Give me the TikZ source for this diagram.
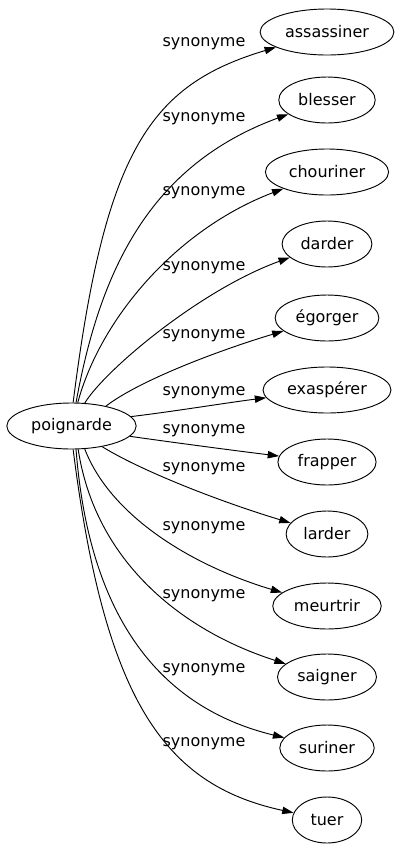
\documentclass[tikz,border=0pt]{standalone}
\usepackage{fontspec}
\setmainfont{DejaVu Sans}
\usepackage{tikz}
\usetikzlibrary{shapes.geometric,arrows.meta,positioning}

\begin{document}
\begin{tikzpicture}[x=0.75pt,y=0.75pt,->,>={Triangle[length=8.5pt,width=5.5pt]},line width=0.7pt,
    word/.style={draw, ellipse, minimum height=34.5pt, minimum width=52pt, inner xsep=4pt, inner ysep=3pt, font=\fontsize{12pt}{14pt}\selectfont},
    syn/.style={font=\fontsize{12pt}{14pt}\selectfont, inner sep=0pt}]
        \useasboundingbox (0,0) rectangle (400,-851);
        \node[word] (A) at (71.5,-426) {poignarde};
        \node[word] (B) at (327,-32) {assassiner};
        \node[word] (C) at (327,-100) {blesser};
        \node[word] (D) at (327,-172) {chouriner};
        \node[word] (E) at (327,-244) {darder};
        \node[word] (F) at (327,-318) {égorger};
        \node[word] (G) at (327,-390) {exaspérer};
        \node[word] (H) at (327,-462) {frapper};
        \node[word] (I) at (327,-534) {larder};
        \node[word] (J) at (327,-606) {meurtrir};
        \node[word] (K) at (327,-677) {saigner};
        \node[word] (L) at (327,-748) {suriner};
        \node[word] (M) at (327,-820) {tuer};
        % labels
        \node[syn] (s1) at (204,-44) {synonyme};
        \node[syn] (s2) at (204,-119) {synonyme};
        \node[syn] (s3) at (204,-193) {synonyme};
        \node[syn] (s4) at (204,-268) {synonyme};
        \node[syn] (s5) at (204,-336) {synonyme};
        \node[syn] (s6) at (204,-393) {synonyme};
        \node[syn] (s7) at (204,-431) {synonyme};
        \node[syn] (s8) at (204,-469) {synonyme};
        \node[syn] (s9) at (204,-528) {synonyme};
        \node[syn] (s10) at (204,-596) {synonyme};
        \node[syn] (s11) at (204,-670) {synonyme};
        \node[syn] (s12) at (204,-744) {synonyme};
        % edges
        \draw (A.86) .. controls (105,-150) and (150,-85) .. (B);
        \draw (A.79) .. controls (100,-270) and (150,-165) .. (C);
        \draw (A.75) .. controls (100,-320) and (175,-230) .. (D);
        \draw (A.60) .. controls (105,-370) and (200,-290) .. (E);
        \draw (A.30) .. controls (140,-380) and (220,-350) .. (F);
        \draw (A.9) .. controls (170,-412) and (225,-403) .. (G);
        \draw (A.-10) .. controls (170,-442) and (230,-450) .. (H);
        \draw (A.-34) .. controls (140,-470) and (215,-500) .. (I);
        \draw (A.-60) .. controls (110,-515) and (190,-565) .. (J);
        \draw (A.-74) .. controls (95,-560) and (180,-630) .. (K);
        \draw (A.-79) .. controls (90,-630) and (170,-710) .. (L);
        \draw (A.-86) .. controls (105,-702) and (165,-785) .. (M);
    \end{tikzpicture}
\end{document}
